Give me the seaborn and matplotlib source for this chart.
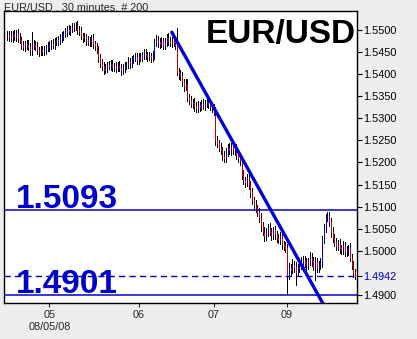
import numpy as np
import pandas as pd
import matplotlib
matplotlib.use("Agg")
import matplotlib.pyplot as plt
import seaborn as sns

# ---------------- data ----------------
first_open = 1.5485
close = [
    1.5489, 1.5486, 1.5482, 1.5491, 1.5486, 1.5493, 1.5482, 1.5477, 1.5466, 1.5462,
    1.5468, 1.5466, 1.5462, 1.5455, 1.5468, 1.5466, 1.5462, 1.5455, 1.5450, 1.5455,
    1.5452, 1.5455, 1.5459, 1.5462, 1.5466, 1.5468, 1.5466, 1.5473, 1.5477, 1.5475,
    1.5482, 1.5486, 1.5491, 1.5495, 1.5500, 1.5498, 1.5502, 1.5506, 1.5508, 1.5510,
    1.5500, 1.5498, 1.5486, 1.5482, 1.5484, 1.5477, 1.5473, 1.5475, 1.5482, 1.5468,
    1.5464, 1.5455, 1.5437, 1.5425, 1.5419, 1.5409, 1.5414, 1.5421, 1.5419, 1.5423,
    1.5416, 1.5419, 1.5414, 1.5419, 1.5416, 1.5409, 1.5414, 1.5419, 1.5421, 1.5428,
    1.5425, 1.5432, 1.5437, 1.5439, 1.5432, 1.5439, 1.5437, 1.5443, 1.5448, 1.5443,
    1.5439, 1.5441, 1.5437, 1.5443, 1.5471, 1.5477, 1.5473, 1.5468, 1.5475, 1.5466,
    1.5473, 1.5482, 1.5475, 1.5471, 1.5477, 1.5473, 1.5466, 1.5405, 1.5400, 1.5396,
    1.5382, 1.5373, 1.5378, 1.5346, 1.5342, 1.5333, 1.5337, 1.5328, 1.5323, 1.5330,
    1.5326, 1.5333, 1.5328, 1.5333, 1.5337, 1.5333, 1.5328, 1.5323, 1.5314, 1.5251,
    1.5244, 1.5233, 1.5228, 1.5217, 1.5210, 1.5224, 1.5233, 1.5228, 1.5237, 1.5228,
    1.5233, 1.5217, 1.5210, 1.5206, 1.5172, 1.5160, 1.5156, 1.5165, 1.5149, 1.5133,
    1.5115, 1.5104, 1.5097, 1.5088, 1.5074, 1.5058, 1.5043, 1.5034, 1.5043, 1.5052,
    1.5043, 1.5036, 1.5047, 1.5038, 1.5029, 1.5025, 1.5034, 1.5015, 1.5011, 1.5006,
    1.4945, 1.4961, 1.4957, 1.4968, 1.4963, 1.4952, 1.4961, 1.4975, 1.4966, 1.4979,
    1.4972, 1.4968, 1.4975, 1.4984, 1.4977, 1.4966, 1.4975, 1.4961, 1.4968, 1.4972,
    1.5025, 1.5052, 1.5074, 1.5079, 1.5065, 1.5043, 1.5029, 1.5020, 1.5011, 1.5015,
    1.5006, 1.5002, 1.5011, 1.4997, 1.5002, 1.5006, 1.4984, 1.4968, 1.4952, 1.4942,
]
# wick lengths in pips above / below the body
upper_wick = [
    9, 8, 11, 7, 10, 8, 9, 12, 8, 10, 7, 9, 11, 8, 27, 9, 8, 10, 7, 9,
    8, 9, 7, 10, 8, 9, 11, 8, 7, 9, 8, 10, 7, 9, 8, 11, 7, 9, 8, 9,
    11, 8, 9, 7, 10, 8, 9, 8, 7, 9, 8, 7, 9, 8, 10, 8, 9, 7, 8, 10,
    8, 7, 9, 8, 10, 7, 8, 9, 7, 10, 8, 9, 7, 8, 9, 8, 10, 7, 9, 8,
    7, 9, 8, 10, 8, 11, 9, 8, 10, 7, 9, 8, 11, 9, 8, 10, 11, 39, 8, 10,
    9, 8, 10, 11, 8, 9, 7, 10, 8, 9, 7, 8, 10, 9, 8, 7, 9, 8, 10, 11,
    9, 8, 11, 7, 10, 8, 9, 12, 8, 10, 9, 8, 11, 9, 8, 10, 7, 9, 11, 8,
    9, 8, 10, 7, 9, 11, 8, 10, 9, 8, 11, 9, 8, 10, 7, 9, 8, 10, 8, 9,
    9, 11, 10, 13, 9, 11, 10, 8, 12, 9, 10, 11, 9, 13, 10, 8, 11, 9, 10, 12,
    9, 8, 10, 10, 8, 9, 11, 8, 10, 9, 11, 8, 12, 9, 10, 8, 11, 9, 8, 6,
]
lower_wick = [
    8, 10, 7, 9, 8, 11, 9, 7, 10, 8, 9, 8, 7, 11, 12, 9, 8, 10, 9, 7,
    9, 8, 10, 7, 9, 8, 7, 9, 8, 10, 7, 9, 8, 7, 9, 8, 10, 7, 9, 8,
    8, 10, 7, 9, 8, 10, 8, 9, 11, 8, 9, 7, 10, 8, 9, 8, 7, 10, 8, 9,
    9, 8, 10, 7, 9, 11, 8, 9, 7, 8, 10, 9, 7, 8, 9, 10, 8, 7, 9, 8,
    9, 8, 10, 7, 9, 8, 11, 9, 7, 10, 8, 9, 8, 7, 10, 9, 8, 7, 10, 9,
    8, 11, 9, 7, 10, 8, 9, 11, 8, 9, 10, 8, 7, 9, 8, 10, 9, 8, 7, 12,
    10, 8, 9, 11, 8, 10, 9, 8, 11, 9, 10, 8, 9, 12, 10, 8, 11, 9, 8, 10,
    9, 11, 8, 10, 9, 12, 8, 11, 9, 10, 8, 12, 9, 11, 10, 8, 9, 11, 10, 8,
    40, 9, 12, 8, 11, 30, 9, 10, 8, 11, 9, 12, 10, 8, 11, 9, 31, 10, 9, 8,
    9, 8, 10, 7, 9, 11, 8, 10, 9, 8, 11, 9, 10, 8, 9, 11, 8, 10, 12, 6,
]
day_tick_pos = [24, 75, 118, 160]
day_tick_labels = ["05", "06", "07", "09"]
date_label = "08/05/08"
price_ticks = [1.4900, 1.5000, 1.5050, 1.5100, 1.5150, 1.5200, 1.5250,
               1.5300, 1.5350, 1.5400, 1.5450, 1.5500]
last_price = 1.4942
level_high = 1.5093
level_low = 1.4901
trend_x = [94, 182]
trend_y = [1.5495, 1.4870]
title = "EUR/USD , 30 minutes, # 200"
symbol = "EUR/USD"

# ---------------- build frame ----------------
n = len(close)
opens = [first_open] + close[:-1]
df = pd.DataFrame({"i": np.arange(n), "open": opens, "close": close,
                   "up": upper_wick, "dn": lower_wick})
df["high"] = df[["open", "close"]].max(axis=1) + df["up"] / 10000
df["low"] = df[["open", "close"]].min(axis=1) - df["dn"] / 10000
df["color"] = np.where(df["close"] > df["open"], "#0000FF",
                       np.where(df["close"] < df["open"], "#CC0000", "#000000"))

# ---------------- figure ----------------
sns.set_style("white")
plt.rcParams["font.family"] = ["Liberation Sans", "DejaVu Sans"]

BG = "#EEEEEE"
LINE_BLUE = "#0000CC"
FS = 7.8
fig = plt.figure(figsize=(4.17, 3.39), dpi=100, facecolor=BG)
ax = fig.add_axes([0.0096, 0.1062, 0.8465, 0.8614])
ax.set_facecolor("white")

ax.vlines(df["i"], df["low"], df["high"], colors="black", linewidth=0.72,
          zorder=2, antialiased=False)
ax.vlines(df["i"], df["open"], df["close"], colors=df["color"], linewidth=0.72,
          zorder=3, antialiased=False)

ax.axhline(level_high, color=LINE_BLUE, linewidth=1.1, zorder=4)
ax.axhline(level_low, color=LINE_BLUE, linewidth=1.1, zorder=4)
ax.axhline(last_price, color=LINE_BLUE, linewidth=1.0, linestyle=(0, (4.5, 3)), zorder=4)

sns.lineplot(x=trend_x, y=trend_y, ax=ax, color="#0000DD", linewidth=2.4, zorder=5)

ax.set_xlim(-2, 200)
ax.set_ylim(1.48819, 1.55430)

# y axis on right
ax.yaxis.tick_right()
yt = sorted(price_ticks + [last_price])
ax.set_yticks(yt)
ax.set_yticklabels([f"{v:.4f}" for v in yt])
ax.tick_params(axis="y", which="both", right=True, left=False, length=3.5,
               width=0.8, pad=1, labelsize=FS, direction="out", colors="black")
for lab, v in zip(ax.get_yticklabels(), yt):
    if abs(v - last_price) < 1e-9:
        lab.set_color(LINE_BLUE)

ax.set_xticks(day_tick_pos)
ax.set_xticklabels(day_tick_labels)
ax.tick_params(axis="x", bottom=True, length=3, width=0.8, pad=2,
               labelsize=FS, direction="out")
ax.text(day_tick_pos[0], -24 / 292, date_label, transform=ax.get_xaxis_transform(),
        ha="center", va="center", fontsize=FS)

for s in ax.spines.values():
    s.set_color("black")
    s.set_linewidth(1.0)
    s.set_visible(True)

ax.set_xlabel("")
ax.set_ylabel("")

# texts
fig.text(4 / 417, 1 - 7 / 339, title, ha="left", va="center", fontsize=FS)
fig.text(206 / 417, 1 - 43 / 339, symbol, ha="left", va="baseline",
         fontsize=24, fontweight="bold", color="black")
ax.text(4.7, level_high + 0.0004, f"{level_high:.4f}", ha="left", va="baseline",
        fontsize=24, fontweight="bold", color=LINE_BLUE, zorder=6)
ax.text(4.7, level_low + 0.0004, f"{level_low:.4f}", ha="left", va="baseline",
        fontsize=24, fontweight="bold", color=LINE_BLUE, zorder=6)

fig.savefig("out.png", dpi=100, facecolor=BG)
